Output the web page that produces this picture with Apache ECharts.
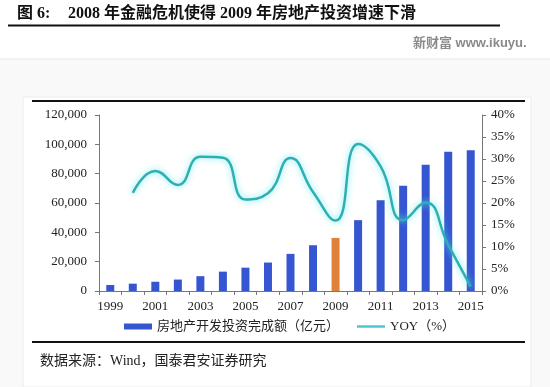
<!DOCTYPE html>
<html><head><meta charset="utf-8">
<script src="https://cdn.jsdelivr.net/npm/echarts@6/dist/echarts.min.js"></script>
<style>html,body{margin:0;padding:0;background:#fff;}#c{width:550px;height:387px;}</style>
</head><body><div id="c"></div>
<script>
const years = ['1999','2000','2001','2002','2003','2004','2005','2006','2007','2008','2009','2010','2011','2012','2013','2014','2015'];
const investment = [4100, 5000, 6300, 7800, 10100, 13200, 15900, 19400, 25300, 31200, 36200, 48300, 61800, 71800, 86000, 95000, 96000];
const yoy = [null, 22.3, 27.3, 24.1, 30.5, 30.3, 20.8, 22.2, 30.2, 22.5, 16.0, 33.4, 28.3, 16.1, 20.1, 10.5, 1.0];
const highlightYear = '2009';
const leftTicks = {min: 0, max: 120000, interval: 20000};
const rightTicks = {min: 0, max: 40, interval: 5};
const barName = '房地产开发投资完成额（亿元）';
const lineName = 'YOY（%）';
const titleText = '2008 年金融危机使得 2009 年房地产投资增速下滑';
const sourceText = '数据来源：Wind，国泰君安证券研究';

const serif = '"Liberation Serif", "Noto Sans CJK SC", serif';
const chart = echarts.init(document.getElementById('c'));
chart.setOption({
  animation: false,
  backgroundColor: '#ffffff',
  graphic: [
    {type:'rect', silent:true, z:-10, shape:{x:0,y:59,width:550,height:328}, style:{fill:'#f9f9f9'}},
    {type:'rect', silent:true, z:-9, shape:{x:23,y:97,width:508,height:290}, style:{fill:'#ffffff', stroke:'#ececec', lineWidth:1}},
    {type:'line', silent:true, shape:{x1:0,y1:59,x2:550,y2:59}, style:{stroke:'#e6e6e6', lineWidth:1}},
    {type:'text', left:17, top:6, style:{text:'图 6:', font:'bold 16px ' + serif, fill:'#111'}},
    {type:'text', left:68, top:6, style:{text:titleText, font:'bold 16px ' + serif, fill:'#111'}},
    {type:'line', silent:true, shape:{x1:8,y1:25.5,x2:500,y2:25.5}, style:{stroke:'#111', lineWidth:2}},
    {type:'text', left:413, top:37, style:{text:'新财富 www.ikuyu.', font:'bold 13px "Liberation Sans", "Noto Sans CJK SC", sans-serif', fill:'#8a8a8a'}},
    {type:'line', silent:true, shape:{x1:32,y1:101,x2:525,y2:101}, style:{stroke:'#111', lineWidth:2}},
    {type:'line', silent:true, shape:{x1:32,y1:342,x2:525,y2:342}, style:{stroke:'#111', lineWidth:2}},
    {type:'text', left:40, top:354, style:{text:sourceText, font:'14px ' + serif, fill:'#222'}}
  ],
  grid: {left: 99, right: 68, top: 115, bottom: 96},
  legend: {
    left: 119, top: 315, itemGap: 18, itemWidth: 28, itemHeight: 6,
    textStyle: {fontFamily: serif, fontSize: 13, color: '#222'},
    data: [
      {name: barName, icon: 'rect'},
      {name: lineName, icon: 'path://M0,0h28v2.5h-28z', itemStyle: {color: '#4cc8cc'}}
    ]
  },
  xAxis: {
    type: 'category', data: years, boundaryGap: true,
    axisLine: {lineStyle: {color: '#777', width: 1}},
    axisTick: {show: true, interval: 0, length: 4, lineStyle: {color: '#777'}},
    axisLabel: {interval: 1, margin: 9, fontFamily: serif, fontSize: 13, color: '#222'}
  },
  yAxis: [
    {type: 'value', min: leftTicks.min, max: leftTicks.max, interval: leftTicks.interval,
     splitLine: {show: false},
     axisLine: {show: true, lineStyle: {color: '#777'}},
     axisTick: {show: true, length: 4, lineStyle: {color: '#777'}},
     axisLabel: {margin: 12, fontFamily: serif, fontSize: 13, color: '#222',
       formatter: v => v.toLocaleString('en-US')}},
    {type: 'value', min: rightTicks.min, max: rightTicks.max, interval: rightTicks.interval,
     splitLine: {show: false},
     axisLine: {show: true, lineStyle: {color: '#777'}},
     axisTick: {show: true, length: 4, lineStyle: {color: '#777'}},
     axisLabel: {margin: 9, fontFamily: serif, fontSize: 13, color: '#222', formatter: '{value}%'}}
  ],
  series: [
    {name: barName, type: 'bar', yAxisIndex: 0, barWidth: 8,
     itemStyle: {color: '#3556d0'},
     data: investment.map((v, i) => years[i] === highlightYear ? {value: v, itemStyle: {color: '#e0803a'}} : v)},
    {name: lineName, type: 'line', yAxisIndex: 1, smooth: 0.5, symbol: 'none', connectNulls: false,
     itemStyle: {color: '#3cc4c8'},
     lineStyle: {color: '#2eb0b2', width: 2.5, shadowColor: 'rgba(90,230,240,0.9)', shadowBlur: 6},
     data: yoy}
  ]
});
</script></body></html>
